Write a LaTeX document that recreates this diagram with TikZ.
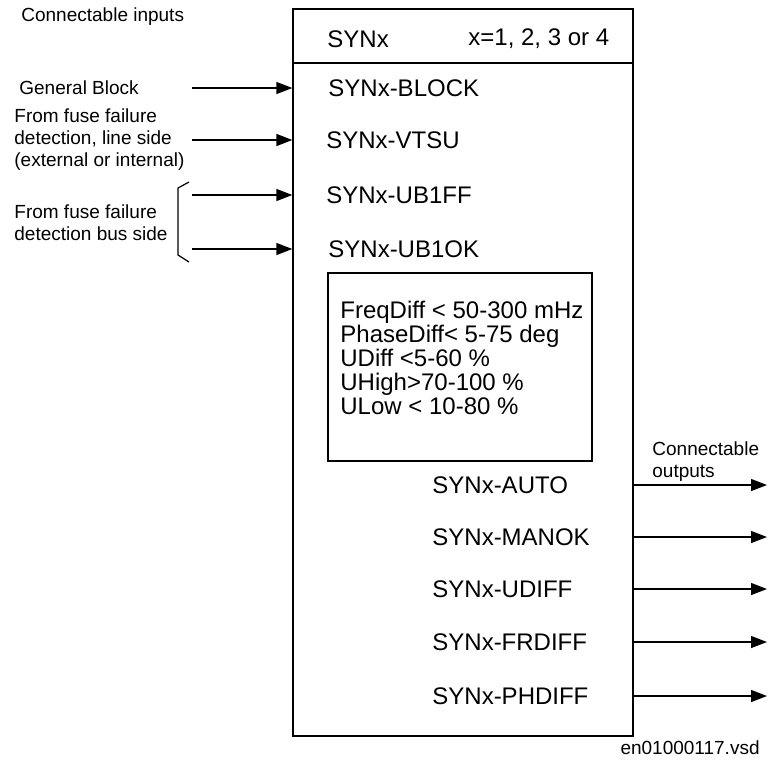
\documentclass[tikz,border=0pt]{standalone}
\usepackage{fontspec}
\setmainfont{Liberation Sans}
\usetikzlibrary{arrows.meta,positioning}

\begin{document}
\begin{tikzpicture}[x=0.5pt,y=-0.5pt,
  lbl/.style={anchor=west,inner sep=0pt,font=\fontsize{12}{11.9}\selectfont},
  note/.style={anchor=west,inner sep=0pt,align=left,font=\fontsize{9.5}{11}\selectfont},
  arr/.style={-{Triangle[length=8pt,width=6pt]},line width=0.65pt}]
  \useasboundingbox (0,0) rectangle (770,761);
  % Function block
  \node[draw,line width=0.65pt,minimum width=170pt,minimum height=363.5pt,inner sep=0pt] (blk) at (463,372.5) {};
  \coordinate (hdr) at (0,63);
  \draw[line width=0.65pt] (blk.west |- hdr) -- (blk.east |- hdr);
  \node[lbl] (name) at (327,39) {SYNx};
  \node[lbl] (inst) at (468,39) {x=1, 2, 3 or 4};
  % Inputs
  \node[note] (inhd) at (21,17) {Connectable inputs};
  \node[note] (genblk) at (19,88) {General Block};
  \node[note] (fuseln) at (14,140) {From fuse failure\\detection, line side\\(external or internal)};
  \node[note] (fusebus) at (14,222.5) {From fuse failure\\detection bus side};
  \draw[line width=0.6pt] (189,182) -- (178,188) -- (178,255) -- (189,262);
  \node[lbl] (iblock) at (328,88) {SYNx-BLOCK};
  \node[lbl] (ivtsu) at (326,140) {SYNx-VTSU};
  \node[lbl] (iub1ff) at (326,195) {SYNx-UB1FF};
  \node[lbl] (iub1ok) at (328,249) {SYNx-UB1OK};
  \coordinate (sblock) at (192,88);
  \coordinate (svtsu) at (192,140);
  \coordinate (sub1ff) at (192,195);
  \coordinate (sub1ok) at (192,249);
  \draw[arr] (sblock) -- (sblock -| blk.west);
  \draw[arr] (svtsu) -- (svtsu -| blk.west);
  \draw[arr] (sub1ff) -- (sub1ff -| blk.west);
  \draw[arr] (sub1ok) -- (sub1ok -| blk.west);
  % Settings
  \node[draw,line width=0.65pt,minimum width=132pt,minimum height=94pt,inner sep=0pt] (lim) at (460,367) {};
  \node[lbl,align=left] (limtxt) at (340,358) {FreqDiff < 50-300 mHz\\PhaseDiff< 5-75 deg\\UDiff <5-60 \%\\UHigh>70-100 \%\\ULow < 10-80 \%};
  % Outputs
  \node[note] (outhd) at (652,461.5) {Connectable\\outputs};
  \node[lbl] (oauto) at (432,485) {SYNx-AUTO};
  \node[lbl] (omanok) at (432,537) {SYNx-MANOK};
  \node[lbl] (oudiff) at (432,589) {SYNx-UDIFF};
  \node[lbl] (ofrdiff) at (432,642) {SYNx-FRDIFF};
  \node[lbl] (ophdiff) at (432,696) {SYNx-PHDIFF};
  \coordinate (tauto) at (767,485);
  \coordinate (tmanok) at (767,537);
  \coordinate (tudiff) at (767,589);
  \coordinate (tfrdiff) at (767,642);
  \coordinate (tphdiff) at (767,696);
  \draw[arr] (tauto -| blk.east) -- (tauto);
  \draw[arr] (tmanok -| blk.east) -- (tmanok);
  \draw[arr] (tudiff -| blk.east) -- (tudiff);
  \draw[arr] (tfrdiff -| blk.east) -- (tfrdiff);
  \draw[arr] (tphdiff -| blk.east) -- (tphdiff);
  % File name
  \node[note,anchor=east] (fname) at (760,748) {en01000117.vsd};
\end{tikzpicture}
\end{document}
